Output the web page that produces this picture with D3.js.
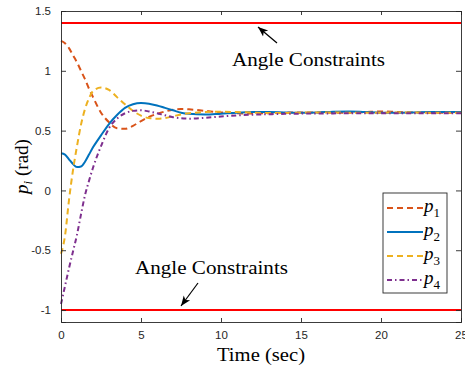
<!DOCTYPE html>
<html>
<head>
<meta charset="utf-8">
<script src="https://cdn.jsdelivr.net/npm/d3@7"></script>
<style>
  html, body { margin: 0; padding: 0; background: #fff; }
</style>
</head>
<body>
<svg id="chart" width="465" height="369"></svg>
<script>
// --- Daten ---
const time = [0, 0.25, 0.5, 0.75, 1, 1.25, 1.5, 1.75, 2, 2.5, 3, 3.5, 4, 4.5, 5, 5.5, 6, 6.5, 7, 7.5, 8,
              9, 10, 11, 12, 13, 14, 15, 16, 17, 18, 19, 20, 21, 22, 23, 24, 25];
const p1 = [1.25, 1.23, 1.19, 1.13, 1.07, 1.0, 0.93, 0.85, 0.78, 0.65, 0.57, 0.52, 0.515, 0.54, 0.58, 0.615, 0.64, 0.66, 0.675, 0.68, 0.678,
            0.665, 0.652, 0.645, 0.643, 0.646, 0.65, 0.652, 0.652, 0.65, 0.65, 0.655, 0.66, 0.656, 0.652, 0.65, 0.65, 0.65];
const p2 = [0.31, 0.30, 0.26, 0.22, 0.195, 0.20, 0.24, 0.30, 0.36, 0.46, 0.555, 0.63, 0.69, 0.72, 0.73, 0.725, 0.71, 0.69, 0.67, 0.65, 0.64,
            0.635, 0.642, 0.65, 0.655, 0.656, 0.652, 0.65, 0.652, 0.658, 0.66, 0.655, 0.65, 0.65, 0.652, 0.655, 0.655, 0.655];
const p3 = [-0.53, -0.38, -0.08, 0.17, 0.37, 0.55, 0.68, 0.77, 0.83, 0.86, 0.84, 0.78, 0.72, 0.665, 0.625, 0.605, 0.60, 0.605, 0.62, 0.635, 0.645,
            0.655, 0.658, 0.655, 0.65, 0.647, 0.647, 0.65, 0.652, 0.652, 0.65, 0.65, 0.65, 0.652, 0.652, 0.65, 0.65, 0.65];
const p4 = [-0.95, -0.80, -0.65, -0.51, -0.37, -0.2, -0.04, 0.08, 0.19, 0.37, 0.52, 0.60, 0.645, 0.665, 0.67, 0.66, 0.645, 0.628, 0.612, 0.603, 0.60,
            0.607, 0.618, 0.627, 0.633, 0.637, 0.64, 0.642, 0.643, 0.644, 0.645, 0.645, 0.645, 0.645, 0.645, 0.645, 0.645, 0.645];
const constraints = [1.4, -1];                       // Winkelgrenzen
const xTicks = [0, 5, 10, 15, 20, 25];
const yTicks = [-1, -0.5, 0, 0.5, 1, 1.5];
const seriesNames = ["1", "2", "3", "4"];            // Indizes für p_i

// --- Linienstile (MATLAB-Farben) ---
const styles = [
  { color: "#D95319", dash: "6,4" },
  { color: "#0072BD", dash: null },
  { color: "#EDB120", dash: "6,4" },
  { color: "#7E2F8E", dash: "5,3,1.5,3" },
];
const series = [p1, p2, p3, p4];

// --- Grundgerüst ---
const svg = d3.select("#chart");
const mLeft = 61, mRight = 461, mTop = 11, mBottom = 322;

const x = d3.scaleLinear().domain([0, 25]).range([mLeft, mRight]);
const y = d3.scaleLinear().domain([-1.1, 1.5]).range([mBottom, mTop]);

const axisColor = "#262626";
const tickFont = "'Liberation Sans', Arial, sans-serif";
const texFont = "'Liberation Serif', 'Times New Roman', serif";

// --- Grenzlinien (rot) ---
svg.selectAll("line.limit")
  .data(constraints)
  .enter()
  .append("line")
  .attr("x1", x(0)).attr("x2", x(25))
  .attr("y1", d => y(d)).attr("y2", d => y(d))
  .attr("stroke", "#ff0000")
  .attr("stroke-width", 2);

// --- Kurven ---
const line = d3.line()
  .x((d, i) => x(time[i]))
  .y(d => y(d))
  .curve(d3.curveMonotoneX);

svg.selectAll("path.series")
  .data(series)
  .enter()
  .append("path")
  .attr("d", d => line(d))
  .attr("fill", "none")
  .attr("stroke", (d, i) => styles[i].color)
  .attr("stroke-width", 2)
  .attr("stroke-dasharray", (d, i) => styles[i].dash);

// --- Achsen (Box mit Ticks innen) ---
const gx = svg.append("g").attr("transform", `translate(0,${mBottom})`)
  .call(d3.axisBottom(x).tickValues(xTicks).tickSize(-4).tickPadding(9).tickFormat(d3.format("d")));
const gxTop = svg.append("g").attr("transform", `translate(0,${mTop})`)
  .call(d3.axisTop(x).tickValues(xTicks).tickSize(-4).tickFormat(""));
const gy = svg.append("g").attr("transform", `translate(${mLeft},0)`)
  .call(d3.axisLeft(y).tickValues(yTicks).tickSize(-5).tickPadding(10).tickFormat(d => String(d)));
const gyRight = svg.append("g").attr("transform", `translate(${mRight},0)`)
  .call(d3.axisRight(y).tickValues(yTicks).tickSize(-5).tickFormat(""));

[gx, gxTop, gy, gyRight].forEach(g => {
  g.select(".domain").attr("stroke", axisColor).attr("stroke-width", 0.9);
  g.selectAll(".tick line").attr("stroke", axisColor).attr("stroke-width", 0.9);
  g.selectAll("text").attr("fill", axisColor).attr("font-family", tickFont).attr("font-size", 11.5);
});

// --- Achsenbeschriftungen ---
svg.append("text")
  .attr("x", (mLeft + mRight) / 2).attr("y", 361)
  .attr("text-anchor", "middle")
  .attr("font-family", texFont).attr("font-size", 19)
  .attr("textLength", 88).attr("lengthAdjust", "spacingAndGlyphs")
  .text("Time (sec)");

const yl = svg.append("text")
  .attr("transform", `translate(28,${(mTop + mBottom) / 2}) rotate(-90)`)
  .attr("text-anchor", "middle")
  .attr("font-family", texFont).attr("font-size", 19);
yl.append("tspan").attr("font-style", "italic").text("p");
yl.append("tspan").attr("font-style", "italic").attr("font-size", 13).attr("dy", 4).text("i");
yl.append("tspan").attr("dy", -4).text(" (rad)");

// --- Annotationen mit Pfeilen ---
const defs = svg.append("defs");
defs.append("marker")
  .attr("id", "arrow").attr("viewBox", "0 0 10 10")
  .attr("refX", 10).attr("refY", 5)
  .attr("markerWidth", 10).attr("markerHeight", 10)
  .attr("markerUnits", "userSpaceOnUse")
  .attr("orient", "auto")
  .append("path").attr("d", "M0,1 L10,5 L0,9 L2.5,5 Z").attr("fill", "#000");

const notes = [
  { text: "Angle Constraints", tx: 232, ty: 66, from: [277, 43], to: [258, 27] },
  { text: "Angle Constraints", tx: 135, ty: 274, from: [198, 283], to: [181, 306] },
];
notes.forEach(n => {
  svg.append("line")
    .attr("x1", n.from[0]).attr("y1", n.from[1])
    .attr("x2", n.to[0]).attr("y2", n.to[1])
    .attr("stroke", "#000").attr("stroke-width", 1.2)
    .attr("marker-end", "url(#arrow)");
  svg.append("text")
    .attr("x", n.tx).attr("y", n.ty)
    .attr("font-family", texFont).attr("font-size", 19)
    .attr("textLength", 153).attr("lengthAdjust", "spacingAndGlyphs")
    .attr("fill", "#000")
    .text(n.text);
});

// --- Legende ---
const legend = svg.append("g");
legend.append("rect")
  .attr("x", 383).attr("y", 193).attr("width", 64).attr("height", 100)
  .attr("fill", "#fff").attr("stroke", axisColor).attr("stroke-width", 0.9);

const item = legend.selectAll("g.item")
  .data(seriesNames)
  .enter()
  .append("g")
  .attr("transform", (d, i) => `translate(0,${208 + i * 24})`);
item.append("line")
  .attr("x1", 387).attr("x2", 423).attr("y1", 0).attr("y2", 0)
  .attr("stroke", (d, i) => styles[i].color)
  .attr("stroke-width", 2)
  .attr("stroke-dasharray", (d, i) => styles[i].dash);
const lt = item.append("text")
  .attr("x", 424).attr("y", 4)
  .attr("font-family", texFont).attr("font-size", 19);
lt.append("tspan").attr("font-style", "italic").text("p");
lt.append("tspan").attr("font-size", 13).attr("dy", 5).text(d => d);
</script>
</body>
</html>
